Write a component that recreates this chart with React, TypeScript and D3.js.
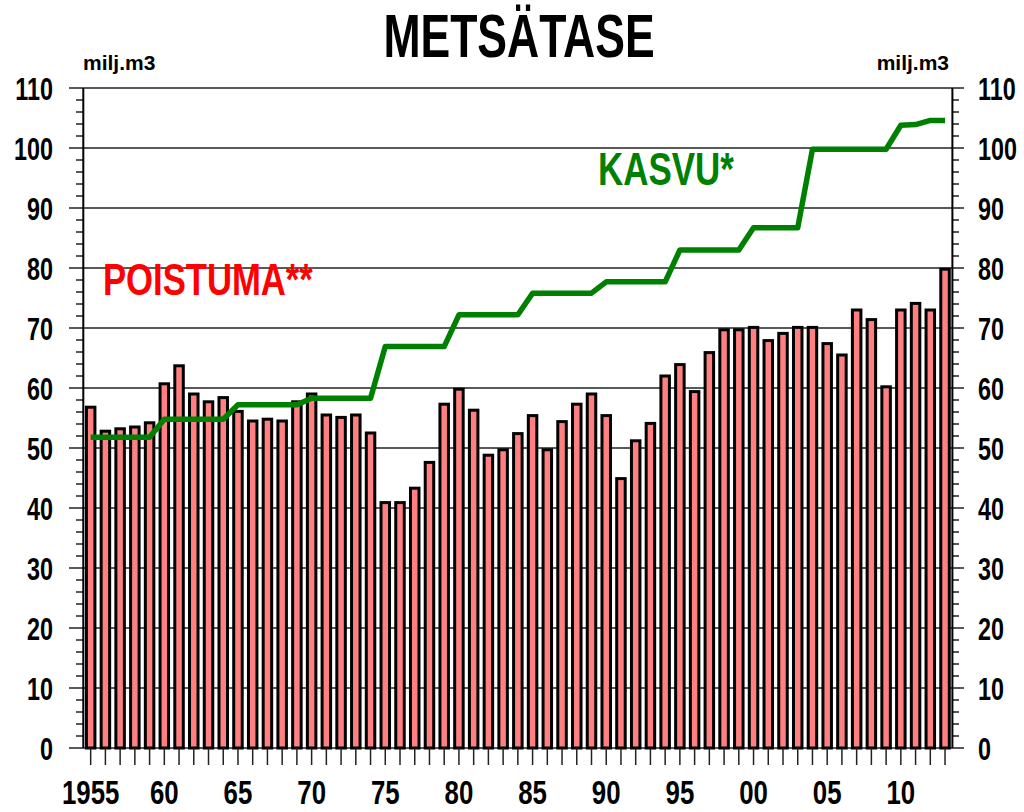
import React from 'react';
import * as d3 from 'd3';

// removals (POISTUMA**) per year, million m3
const years = d3.range(1955, 2014);
const poistuma = [
  56.8, 52.8, 53.2, 53.5, 54.2, 60.7, 63.7, 59.0, 57.7, 58.4,
  56.1, 54.5, 54.8, 54.5, 57.7, 59.0, 55.5, 55.1, 55.5, 52.5,
  40.9, 40.9, 43.3, 47.6, 57.3, 59.8, 56.3, 48.8, 49.7, 52.4,
  55.4, 49.7, 54.4, 57.3, 59.0, 55.4, 44.9, 51.2, 54.1, 62.0,
  63.9, 59.4, 65.9, 69.7, 69.7, 70.1, 67.9, 69.1, 70.1, 70.1,
  67.4, 65.5, 73.0, 71.4, 60.2, 73.0, 74.1, 73.0, 79.8,
];
// growth (KASVU*) per year, million m3
const kasvu = [
  51.8, 51.8, 51.8, 51.8, 51.8, 54.8, 54.8, 54.8, 54.8, 54.8,
  57.2, 57.2, 57.2, 57.2, 57.2, 58.3, 58.3, 58.3, 58.3, 58.3,
  66.9, 66.9, 66.9, 66.9, 66.9, 72.2, 72.2, 72.2, 72.2, 72.2,
  75.8, 75.8, 75.8, 75.8, 75.8, 77.7, 77.7, 77.7, 77.7, 77.7,
  83.0, 83.0, 83.0, 83.0, 83.0, 86.7, 86.7, 86.7, 86.7, 99.8,
  99.8, 99.8, 99.8, 99.8, 99.8, 103.8, 103.9, 104.6, 104.6,
];
const yTicks = d3.range(0, 111, 10);
const xLabelYears = [1955, 1960, 1965, 1970, 1975, 1980, 1985, 1990, 1995, 2000, 2005, 2010];
const xLabels = ['1955', '60', '65', '70', '75', '80', '85', '90', '95', '00', '05', '10'];

const font = '"Liberation Sans", Arial, sans-serif';

export default function App() {
  const left = 83.3, right = 952.4, top = 88, bottom = 748;
  const x = d3.scaleBand<number>().domain(years).range([left, right]).padding(0);
  const y = d3.scaleLinear().domain([0, 110]).range([bottom, top]);
  const cx = (yr: number) => (x(yr) as number) + x.bandwidth() / 2;
  const barW = 8.5;

  const line = d3.line<number>()
    .x((_, i) => cx(years[i]))
    .y(d => y(d));

  const minor = d3.range(0, 111, 2).filter(v => v % 10 !== 0);

  // glyphs in the original are narrow and tall
  const squeeze = (tx: number, ty: number, s = 0.73) => `translate(${tx},${ty}) scale(${s},1)`;

  return (
    <svg width={1024} height={812} style={{ position: 'absolute', left: 0, top: 0, background: '#fff' }}>
      {/* title */}
      <text transform={squeeze(519, 57)} textAnchor="middle" fontFamily={font} fontWeight="bold" fontSize={61} fill="#000">
        METSÄTASE
      </text>
      <text x={83} y={70} fontFamily={font} fontWeight="bold" fontSize={21} fill="#000">milj.m3</text>
      <text x={949} y={70} textAnchor="end" fontFamily={font} fontWeight="bold" fontSize={21} fill="#000">milj.m3</text>

      {/* grid lines */}
      {yTicks.map(t => (
        <line key={'g' + t} x1={69} x2={964} y1={y(t)} y2={y(t)} stroke="#222" strokeWidth={1.6} />
      ))}
      {/* minor ticks */}
      {minor.map(t => (
        <g key={'m' + t}>
          <line x1={76} x2={left} y1={y(t)} y2={y(t)} stroke="#222" strokeWidth={1.5} />
          <line x1={right} x2={959} y1={y(t)} y2={y(t)} stroke="#222" strokeWidth={1.5} />
        </g>
      ))}
      <line x1={left} x2={left} y1={top} y2={bottom} stroke="#000" strokeWidth={2} />
      <line x1={right} x2={right} y1={top} y2={bottom} stroke="#000" strokeWidth={2} />

      {/* y labels */}
      {yTicks.map(t => (
        <g key={'l' + t} fontFamily={font} fontWeight="bold" fontSize={32} fill="#000">
          <text transform={squeeze(53, y(t) + 11.5)} textAnchor="end">{t}</text>
          <text transform={squeeze(978, y(t) + 11.5)}>{t}</text>
        </g>
      ))}

      {/* bars */}
      {poistuma.map((v, i) => (
        <rect key={'b' + i} x={cx(years[i]) - barW / 2} y={y(v)} width={barW} height={bottom - y(v)}
          fill="#ff8080" stroke="#000" strokeWidth={3} />
      ))}

      {/* x ticks and labels */}
      {years.map(yr => (
        <line key={'t' + yr} x1={cx(yr)} x2={cx(yr)} y1={bottom} y2={765} stroke="#222" strokeWidth={1.5} />
      ))}
      {xLabelYears.map((yr, i) => (
        <text key={'x' + yr} transform={squeeze(cx(yr), 804, 0.76)} textAnchor="middle"
          fontFamily={font} fontWeight="bold" fontSize={34} fill="#000">{xLabels[i]}</text>
      ))}

      {/* growth line */}
      <path d={line(kasvu) as string} fill="none" stroke="#008000" strokeWidth={5.5} strokeLinejoin="round" />

      <text transform={squeeze(103, 295, 0.77)} fontFamily={font} fontWeight="bold" fontSize={45} fill="#ff0000">POISTUMA**</text>
      <text transform={squeeze(598, 185, 0.76)} fontFamily={font} fontWeight="bold" fontSize={46} fill="#008000">KASVU*</text>
    </svg>
  );
}
